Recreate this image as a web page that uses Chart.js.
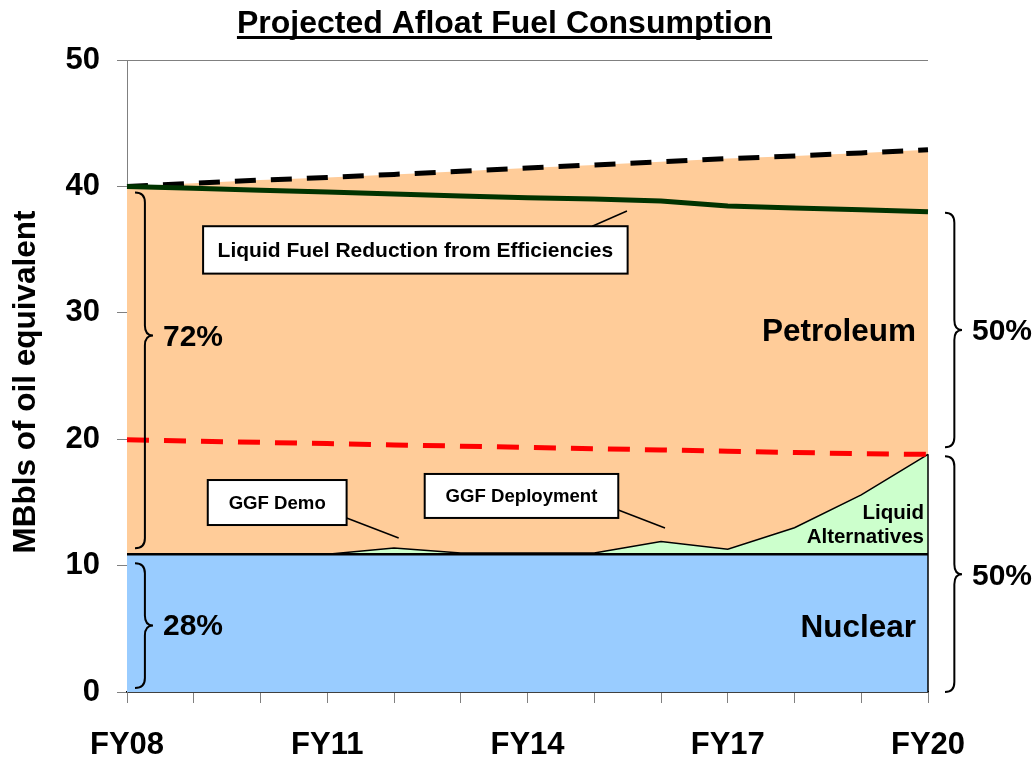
<!DOCTYPE html>
<html>
<head>
<meta charset="utf-8">
<script src="https://cdn.jsdelivr.net/npm/chart.js@4.4.1/dist/chart.umd.min.js"></script>
<style>
  html, body { margin: 0; padding: 0; background: #ffffff; }
  #wrap { width: 1036px; height: 758px; }
</style>
</head>
<body>
<div id="wrap"><canvas id="c" width="1036" height="758"></canvas></div>
<script>
// ---------------- data ----------------
const years = ['FY08','FY09','FY10','FY11','FY12','FY13','FY14','FY15','FY16','FY17','FY18','FY19','FY20'];
const shownLabels = ['FY08','FY11','FY14','FY17','FY20'];
const yTicks = [0, 10, 20, 30, 40, 50];

// MBbls of oil equivalent (cumulative tops of stacked areas)
const nuclear      = [10.9, 10.9, 10.9, 10.9, 10.9, 10.9, 10.9, 10.9, 10.9, 10.9, 10.9, 10.9, 10.9];
const liquidAltTop = [10.9, 10.9, 10.9, 10.9, 11.4, 11.0, 11.0, 11.0, 11.9, 11.3, 13.0, 15.6, 18.8];
const baselineTotal = [40.0, 40.25, 40.5, 40.7, 40.95, 41.2, 41.45, 41.7, 41.95, 42.2, 42.4, 42.65, 42.9];
const efficientTotal = [40.0, 39.85, 39.7, 39.55, 39.4, 39.25, 39.1, 39.0, 38.85, 38.45, 38.3, 38.15, 38.0];
const fiftyPctLine  = [19.95, 19.85, 19.75, 19.65, 19.55, 19.45, 19.35, 19.25, 19.15, 19.05, 18.95, 18.85, 18.8];

const shareLeft  = ['72%', '28%'];
const shareRight = ['50%', '50%'];

// ---------------- chart ----------------
const FONT = '"Liberation Sans", Arial, Helvetica, sans-serif';

const overlay = {
  id: 'overlay',
  afterDatasetsDraw(chart) {
    const ctx = chart.ctx;
    const xs = chart.scales.x, ys = chart.scales.y;
    const X = v => xs.getPixelForValue(v);
    const Y = v => ys.getPixelForValue(v);
    const ca = chart.chartArea;
    const last = years.length - 1;

    ctx.save();
    // right edge of the lower stacked areas
    ctx.strokeStyle = '#000';
    ctx.lineWidth = 1.5;
    ctx.beginPath();
    ctx.moveTo(X(last), Y(liquidAltTop[last]));
    ctx.lineTo(X(last), Y(0));
    ctx.stroke();

    // braces
    function brace(x, y1, y2, w, tip) {
      const mid = tip;
      const s = x + w * 0.55;
      const r = Math.min(10, (y2 - y1) / 6);
      ctx.beginPath();
      ctx.moveTo(x, y1);
      ctx.quadraticCurveTo(s, y1, s, y1 + r);
      ctx.lineTo(s, mid - r);
      ctx.quadraticCurveTo(s, mid, x + w, mid);
      ctx.quadraticCurveTo(s, mid, s, mid + r);
      ctx.lineTo(s, y2 - r);
      ctx.quadraticCurveTo(s, y2, x, y2);
      ctx.stroke();
    }
    ctx.strokeStyle = '#000';
    ctx.lineWidth = 2;
    const lb1 = [Y(baselineTotal[0]) + 6, Y(nuclear[0]) - 6, Y(28.2)];
    const lb2 = [Y(nuclear[0]) + 9, Y(0) - 4, 0];
    lb2[2] = (lb2[0] + lb2[1]) / 2;
    const rb1 = [Y(efficientTotal[last]) + 1, Y(fiftyPctLine[last]) - 7, 0];
    rb1[2] = (rb1[0] + rb1[1]) / 2;
    const rb2 = [Y(liquidAltTop[last]) + 2, Y(0), 0];
    rb2[2] = (rb2[0] + rb2[1]) / 2;
    brace(ca.left + 8, lb1[0], lb1[1], 18, lb1[2]);
    brace(ca.left + 8, lb2[0], lb2[1], 18, lb2[2]);
    brace(ca.right + 17, rb1[0], rb1[1], 17, rb1[2]);
    brace(ca.right + 17, rb2[0], rb2[1], 17, rb2[2]);

    ctx.fillStyle = '#000';
    ctx.textBaseline = 'middle';
    ctx.font = 'bold 30px ' + FONT;
    ctx.textAlign = 'left';
    ctx.fillText(shareLeft[0], ca.left + 36, lb1[2] + 2);
    ctx.fillText(shareLeft[1], ca.left + 36, lb2[2] + 1);
    ctx.fillText(shareRight[0], ca.right + 44, rb1[2] + 2);
    ctx.fillText(shareRight[1], ca.right + 44, rb2[2] + 3);

    // area labels
    ctx.textAlign = 'right';
    ctx.font = 'bold 31.5px ' + FONT;
    ctx.fillText('Petroleum', X(11.82), Y(28.48));
    ctx.fillText('Nuclear', X(11.82), Y(5.06));
    ctx.font = 'bold 20.5px ' + FONT;
    ctx.fillText('Liquid', X(11.94), Y(14.16));
    ctx.fillText('Alternatives', X(11.94), Y(12.26));

    // callouts
    function callout(text, size, x1, x2, yt, yb, l1, l2) {
      ctx.strokeStyle = '#000';
      ctx.lineWidth = 1.5;
      ctx.beginPath();
      ctx.moveTo(X(l1[0]), Y(l1[1]));
      ctx.lineTo(X(l2[0]), Y(l2[1]));
      ctx.stroke();
      const L = X(x1), R = X(x2), T = Y(yt), B = Y(yb);
      ctx.fillStyle = '#fff';
      ctx.fillRect(L, T, R - L, B - T);
      ctx.lineWidth = 2;
      ctx.strokeRect(L, T, R - L, B - T);
      ctx.fillStyle = '#000';
      ctx.font = 'bold ' + size + 'px ' + FONT;
      ctx.textAlign = 'center';
      ctx.textBaseline = 'middle';
      ctx.fillText(text, (L + R) / 2, (T + B) / 2 + 1);
    }
    callout('Liquid Fuel Reduction from Efficiencies', 21, 1.14, 7.50, 36.85, 33.1, [6.97, 36.85], [7.49, 38.05]);
    callout('GGF Demo', 18.6, 1.21, 3.29, 16.77, 13.21, [3.29, 13.77], [4.07, 12.18]);
    callout('GGF Deployment', 18.6, 4.46, 7.36, 17.25, 13.77, [7.36, 14.40], [8.06, 12.97]);
    ctx.restore();
  },
  afterDraw(chart) {
    const ctx = chart.ctx;
    ctx.save();
    // title (underlined)
    const title = 'Projected Afloat Fuel Consumption';
    ctx.font = 'bold 32px ' + FONT;
    ctx.fillStyle = '#000';
    ctx.textAlign = 'left';
    ctx.textBaseline = 'alphabetic';
    const w = ctx.measureText(title).width;
    const cx = 504.5, base = 33;
    ctx.fillText(title, cx - w / 2, base);
    ctx.fillRect(cx - w / 2, base + 3, w, 3);
    // y axis title
    ctx.translate(26, 382);
    ctx.rotate(-Math.PI / 2);
    ctx.textAlign = 'center';
    ctx.textBaseline = 'middle';
    ctx.font = 'bold 31.5px ' + FONT;
    ctx.fillText('MBbls of oil equivalent', 0, 0);
    ctx.restore();
  }
};

new Chart(document.getElementById('c'), {
  type: 'line',
  data: {
    labels: years,
    datasets: [
      { label: 'Nuclear', data: nuclear, fill: 'origin', backgroundColor: '#99CCFF',
        borderColor: '#000', borderWidth: 2.5, pointRadius: 0, tension: 0, order: 3 },
      { label: 'Liquid Alternatives', data: liquidAltTop, fill: '-1', backgroundColor: '#CCFFCC',
        borderColor: '#000', borderWidth: 1.5, pointRadius: 0, tension: 0, order: 4 },
      { label: 'With Efficiencies', data: efficientTotal, fill: false,
        borderColor: '#003300', borderWidth: 5, pointRadius: 0, tension: 0, order: 1 },
      { label: '50% line', data: fiftyPctLine, fill: false,
        borderColor: '#FF0000', borderWidth: 5, borderDash: [22, 15], pointRadius: 0, tension: 0, order: 2 },
      { label: 'Petroleum', data: baselineTotal, fill: 1, backgroundColor: '#FFCC99',
        borderColor: '#000', borderWidth: 5, borderDash: [21, 15], pointRadius: 0, tension: 0, order: 5 }
    ]
  },
  options: {
    responsive: false,
    animation: false,
    devicePixelRatio: 1,
    layout: { padding: { top: 60, right: 108, left: 0, bottom: 0 } },
    plugins: { legend: { display: false }, tooltip: { enabled: false }, title: { display: false } },
    scales: {
      x: {
        offset: false,
        afterFit(s) { s.height = 66; },
        grid: { drawOnChartArea: false, color: '#808080', tickLength: 11 },
        border: { color: '#000', width: 1.5 },
        ticks: {
          autoSkip: false, maxRotation: 0, minRotation: 0, padding: 24,
          color: '#000', font: { family: FONT, size: 31, weight: 'bold' },
          callback(v, i) { return shownLabels.includes(years[i]) ? years[i] : ''; }
        }
      },
      y: {
        min: 0, max: 50,
        afterFit(s) { s.width = 127; },
        afterBuildTicks(s) { s.ticks = yTicks.map(v => ({ value: v })); },
        grid: { color: '#808080', tickLength: 10, lineWidth: 1 },
        border: { color: '#808080', width: 1 },
        ticks: { padding: 17, color: '#000', font: { family: FONT, size: 31, weight: 'bold' } }
      }
    }
  },
  plugins: [overlay]
});
</script>
</body>
</html>
